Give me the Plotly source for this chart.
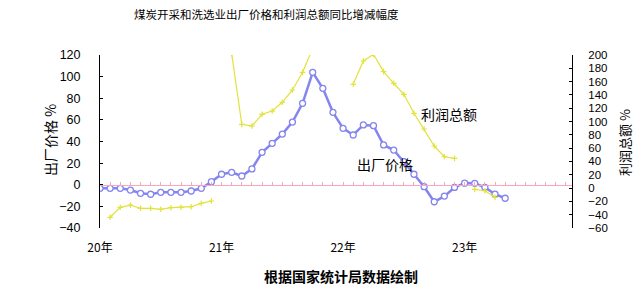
import plotly.graph_objects as go

# month index from Jan 2020
price = [-3.3, -3.3, -3.3, -4.9, -7.9, -8.8, -7.0, -7.0, -7.0, -5.8, -3.3, 2.8,
         9.7, 11.5, 8.1, 14.6, 30.0, 38.3, 46.9, 58.0, 75.3, 104.0, 89.2, 67.0,
         52.2, 46.0, 55.3, 54.6, 36.8, 32.1, 21.3, 9.7, -1.8, -15.7, -10.5, -2.5,
         1.5, 1.3, -2.4, -8.6, -12.5]
profit = [None, -43.9, -28.9, -25.5, -30.4, -30.4, -31.9, -29.5, -28.9, -28.0, -22.9, -19.4,
          None, 202, 95.8, 93.3, 110.9, 115.8, 128.9, 147.4, 174.0, 210, 218, 212.7,
          None, 156.0, 191, 201, 175.0, 157.5, 140.9, 112.4, 88.8, 63.2, 47.1, 44.7,
          None, -1.9, -4.0, -13.9]
price_months = list(range(len(price)))
profit_months = list(range(len(profit)))
year_ticks = [0, 12, 24, 36]
year_labels = ["20年", "21年", "22年", "23年"]

FONT = "Noto Sans CJK SC"
NUMFONT = "Liberation Sans"
BLUE = "#8585f0"
YELLOW = "#e2e23c"
PINK = "#f5a9ba"
X_RANGE = [0, 46.6]

fig = go.Figure()
fig.add_trace(go.Scatter(
    x=profit_months, y=profit, yaxis="y2", mode="lines+markers",
    line=dict(color=YELLOW, width=1.2),
    marker=dict(symbol="cross-thin", size=4, line=dict(color=YELLOW, width=1.2)),
    connectgaps=False, showlegend=False))
fig.add_trace(go.Scatter(
    x=price_months, y=price, yaxis="y", mode="lines+markers",
    line=dict(color=BLUE, width=2.5),
    marker=dict(symbol="circle", size=6, color="white", line=dict(color=BLUE, width=1.3)),
    showlegend=False))
# helper trace for the zero-line axis with monthly ticks
fig.add_trace(go.Scatter(x=[0], y=[None], xaxis="x2", yaxis="y", showlegend=False,
                         hoverinfo="skip"))

fig.update_layout(
    width=639, height=299,
    margin=dict(l=100, r=67, t=55, b=71),
    paper_bgcolor="white", plot_bgcolor="white",
    font=dict(family=FONT, color="black", size=12),
    xaxis=dict(range=X_RANGE, tickmode="array", tickvals=year_ticks, ticktext=year_labels,
               showgrid=False, zeroline=False, showline=False, ticks="",
               tickfont=dict(size=12), ticklabelstandoff=11),
    xaxis2=dict(range=X_RANGE, overlaying="x", anchor="free", position=0.25,
                side="bottom", showgrid=False, zeroline=False, showline=True,
                linecolor=PINK, linewidth=1.2, ticks="inside", ticklen=3, tickcolor=PINK,
                tickwidth=1.2, tickmode="linear", tick0=0, dtick=1, showticklabels=False),
    yaxis=dict(range=[-40, 120], dtick=20, showgrid=False, zeroline=False,
               showline=True, linecolor="black", linewidth=1,
               ticks="inside", ticklen=3, tickcolor="black",
               tickfont=dict(size=12.5, family=NUMFONT), ticklabelstandoff=16),
    yaxis2=dict(range=[-60, 200], dtick=20, overlaying="y", side="right",
                showgrid=False, zeroline=False, showline=True, linecolor="black",
                linewidth=1, ticks="inside", ticklen=3, tickcolor="black",
                tickfont=dict(size=11.5, family=NUMFONT), ticklabelstandoff=13),
    annotations=[
        dict(text="煤炭开采和洗选业出厂价格和利润总额同比增减幅度", xref="paper", yref="paper",
             x=0.352, y=1.237, xanchor="center", yanchor="middle", showarrow=False,
             font=dict(size=11.5)),
        dict(text="<b>根据国家统计局数据绘制</b>", xref="paper", yref="paper",
             x=0.511, y=-0.277, xanchor="center", yanchor="middle", showarrow=False,
             font=dict(size=14)),
        dict(text="出厂价格 %", xref="paper", yref="paper", x=-0.106, y=0.509,
             textangle=-90, xanchor="center", yanchor="middle", showarrow=False,
             font=dict(size=14)),
        dict(text="利润总额 %", xref="paper", yref="paper", x=1.11, y=0.497,
             textangle=-90, xanchor="center", yanchor="middle", showarrow=False,
             font=dict(size=13)),
        dict(text="利润总额", xref="x", yref="y2", x=34.45, y=111.3,
             xanchor="center", yanchor="middle", showarrow=False, font=dict(size=14)),
        dict(text="出厂价格", xref="x", yref="y", x=28.1, y=19.2,
             xanchor="center", yanchor="middle", showarrow=False, font=dict(size=14)),
    ],
)

fig.write_html("out.html")
